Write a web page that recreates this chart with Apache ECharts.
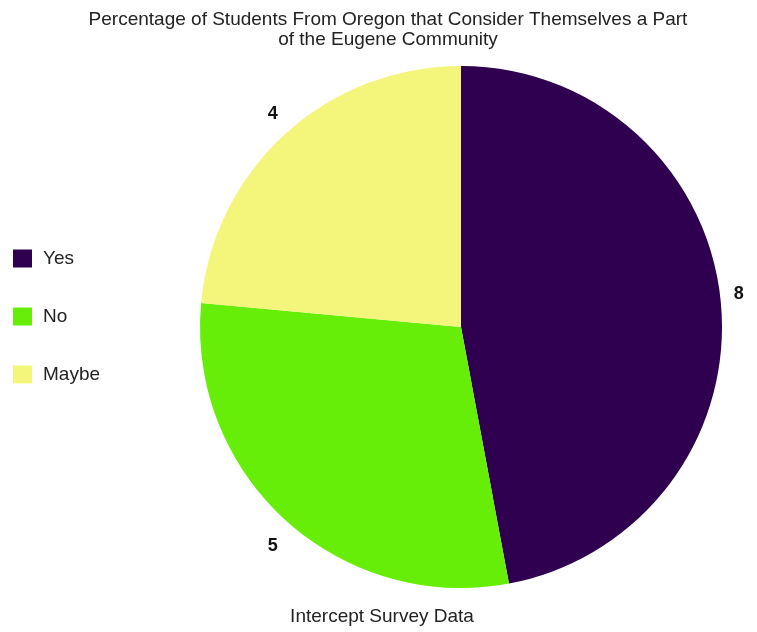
<!DOCTYPE html>
<html>
<head>
<meta charset="utf-8">
<script src="https://cdn.jsdelivr.net/npm/echarts@6/dist/echarts.min.js"></script>
<style>
  html, body { margin: 0; padding: 0; background: #fff; }
  #chart { width: 757px; height: 632px; }
</style>
</head>
<body>
<div id="chart"></div>
<script>
const categories = ['Yes', 'No', 'Maybe']
const counts = [8, 5, 4]
const colors = ['#2f0050', '#66ee08', '#f4f67c']
// nudges so the value labels sit where the original put them
const labelNudge = [[0, -8], [3, 20], [3, -14]]

const chart = echarts.init(document.getElementById('chart'))

chart.setOption({
  animation: false,
  color: colors,
  title: [
    {
      text: 'Percentage of Students From Oregon that Consider Themselves a Part\nof the Eugene Community',
      left: 383,
      top: 5,
      textAlign: 'center',
      textStyle: { fontFamily: 'Liberation Sans', fontSize: 19, fontWeight: 'normal', color: '#222', lineHeight: 20 }
    },
    {
      text: 'Intercept Survey Data',
      left: 377,
      top: 602,
      textAlign: 'center',
      textStyle: { fontFamily: 'Liberation Sans', fontSize: 19, fontWeight: 'normal', color: '#222' }
    }
  ],
  legend: {
    orient: 'vertical',
    left: 13,
    top: 249,
    padding: 0,
    icon: 'rect',
    itemWidth: 19,
    itemHeight: 18,
    itemGap: 39,
    data: categories,
    textStyle: { fontFamily: 'Liberation Sans', fontSize: 19, color: '#222', padding: [0, 0, 0, 6] }
  },
  series: [
    {
      type: 'pie',
      center: [461, 327],
      radius: 261,
      startAngle: 90,
      clockwise: true,
      data: categories.map((name, i) => ({
        name,
        value: counts[i],
        label: { offset: labelNudge[i] }
      })),
      label: {
        show: true,
        position: 'outside',
        formatter: '{c}',
        fontFamily: 'Liberation Sans',
        fontSize: 18,
        fontWeight: 'bold',
        color: '#111'
      },
      labelLine: { show: false, length: 8, length2: 0 },
      emphasis: { disabled: true }
    }
  ]
})
</script>
</body>
</html>
